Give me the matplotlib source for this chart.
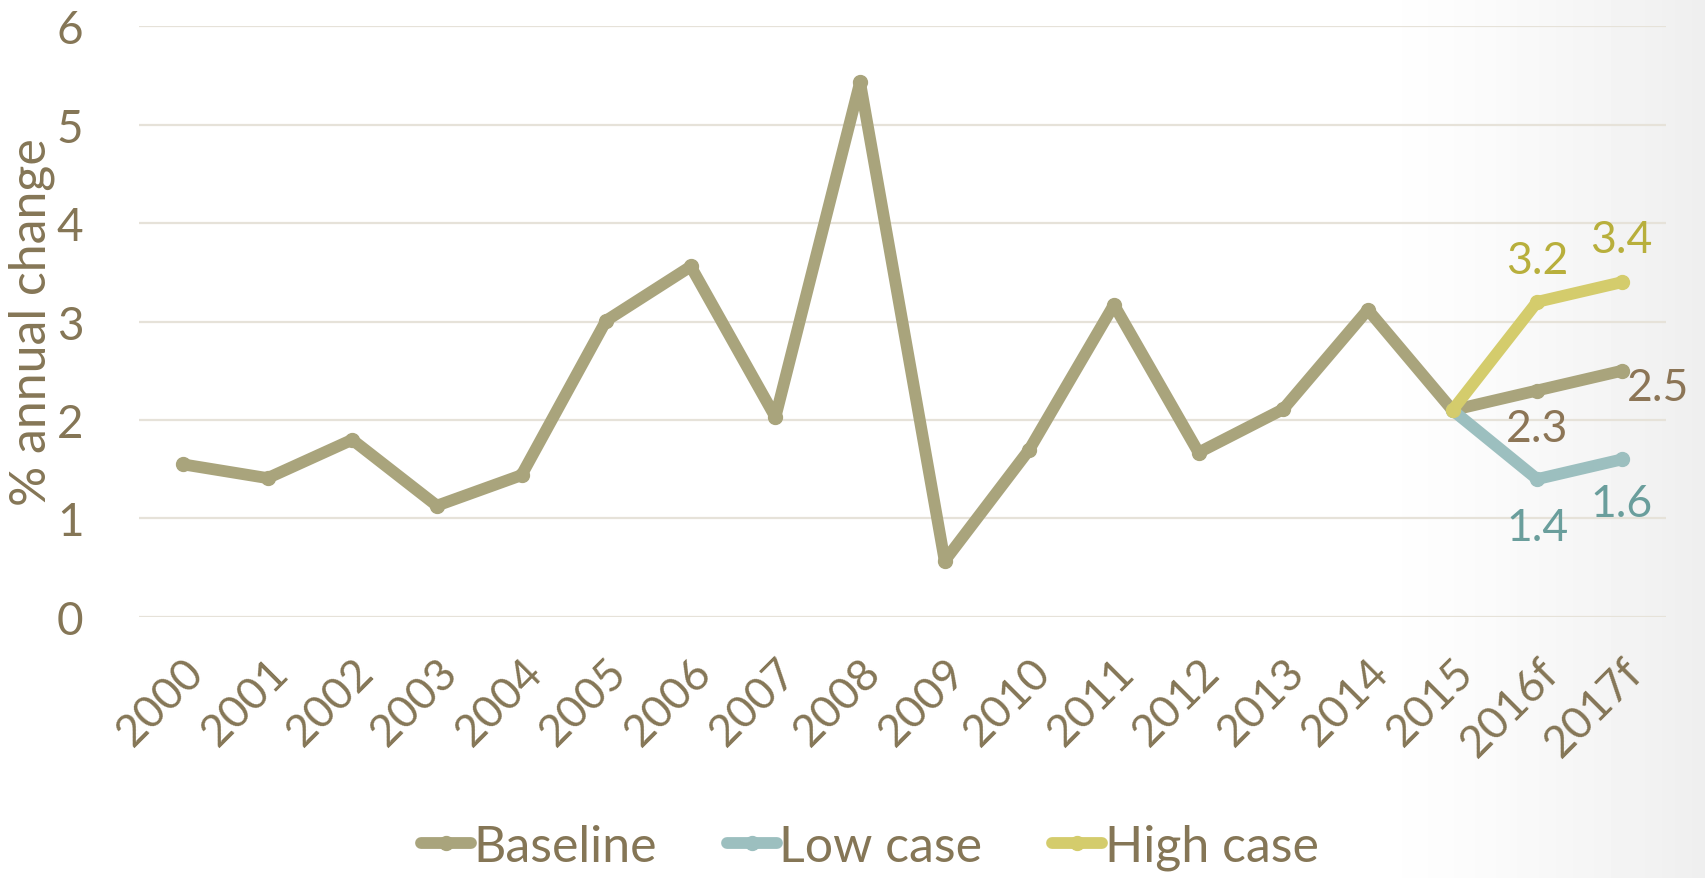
import numpy as np
import matplotlib
matplotlib.use("Agg")
import matplotlib.pyplot as plt

categories = ["2000", "2001", "2002", "2003", "2004", "2005", "2006", "2007", "2008",
              "2009", "2010", "2011", "2012", "2013", "2014", "2015", "2016f", "2017f"]
baseline = [1.55, 1.41, 1.80, 1.13, 1.44, 3.01, 3.56, 2.03, 5.43,
            0.57, 1.70, 3.17, 1.67, 2.11, 3.12, 2.1, 2.3, 2.5]
low_case = [None] * 15 + [2.1, 1.4, 1.6]
high_case = [None] * 15 + [2.1, 3.2, 3.4]
yticks = [0, 1, 2, 3, 4, 5, 6]

TXT = "#857656"
C_BASE = "#A9A47C"
C_LOW = "#9CBFBF"
C_HIGH = "#D4CC6C"

plt.rcParams['font.family'] = ['Lato', 'DejaVu Sans']

fig = plt.figure(figsize=(17.05, 8.79), dpi=100)

# background gradient
bg = fig.add_axes([0, 0, 1, 1], zorder=-10)
xs = np.linspace(0, 1, 400)
grad = np.clip((xs - 0.80) / 0.20, 0, 1) ** 1.3
vals = 1 - 0.065 * grad
img = np.tile(vals, (50, 1))
bg.imshow(img, cmap="gray", vmin=0, vmax=1, aspect="auto", extent=[0, 1, 0, 1])
bg.axis("off")

ax = fig.add_axes([0.0815, 0.297, 0.8955, 0.672])
ax.patch.set_alpha(0)
x = np.arange(len(categories))

def to_arr(v):
    return np.array([np.nan if a is None else a for a in v], dtype=float)

lw = 8.5
ms = 10
ax.plot(x, to_arr(baseline), color=C_BASE, lw=lw, marker='o', ms=ms,
        solid_capstyle='round', solid_joinstyle='round', label="Baseline", zorder=3)
ax.plot(x, to_arr(low_case), color=C_LOW, lw=lw, marker='o', ms=ms,
        solid_capstyle='round', solid_joinstyle='round', label="Low case", zorder=4)
ax.plot(x, to_arr(high_case), color=C_HIGH, lw=lw, marker='o', ms=ms,
        solid_capstyle='round', solid_joinstyle='round', label="High case", zorder=5)

ax.set_ylim(0, 6)
ax.set_xlim(-0.52, len(categories) - 0.48)
ax.set_yticks(yticks)
ax.set_yticklabels([str(t) for t in yticks])
ax.set_xticks(x)
ax.set_xticklabels(categories, rotation=45, ha='right', rotation_mode='anchor')
ax.grid(axis='y', color="#E6E2D9", lw=1.6)
ax.set_axisbelow(True)
for s in ax.spines.values():
    s.set_visible(False)
ax.tick_params(axis='y', length=0, pad=40, labelsize=33, labelcolor=TXT)
ax.tick_params(axis='x', length=0, pad=24, labelsize=32, labelcolor=TXT)
ax.set_ylabel("% annual change", fontsize=36, color=TXT, labelpad=1)

# data labels
lab_col_base = "#8C7556"
lab_col_low = "#6A9E9C"
lab_col_high = "#B8AF3C"
n = len(categories)
def ann(i, v, col, dx, dy):
    ax.annotate(f"{v:.1f}", (x[i], v), xytext=(dx, dy), textcoords='offset points',
                ha='center', va='center', fontsize=32, color=col)
ann(n - 2, high_case[-2], lab_col_high, 0, 30)
ann(n - 1, high_case[-1], lab_col_high, 0, 31)
ann(n - 2, baseline[-2], lab_col_base, 0, -27)
ann(n - 1, baseline[-1], lab_col_base, 26, -12)
ann(n - 2, low_case[-2], lab_col_low, 0, -35)
ann(n - 1, low_case[-1], lab_col_low, 0, -32)

leg = fig.legend(loc='center', bbox_to_anchor=(0.51, 0.035), ncol=3, frameon=False,
                 fontsize=36, handlelength=1.0, handletextpad=0.05, columnspacing=1.4)
for t in leg.get_texts():
    t.set_color(TXT)

fig.savefig("out.png", dpi=100)
